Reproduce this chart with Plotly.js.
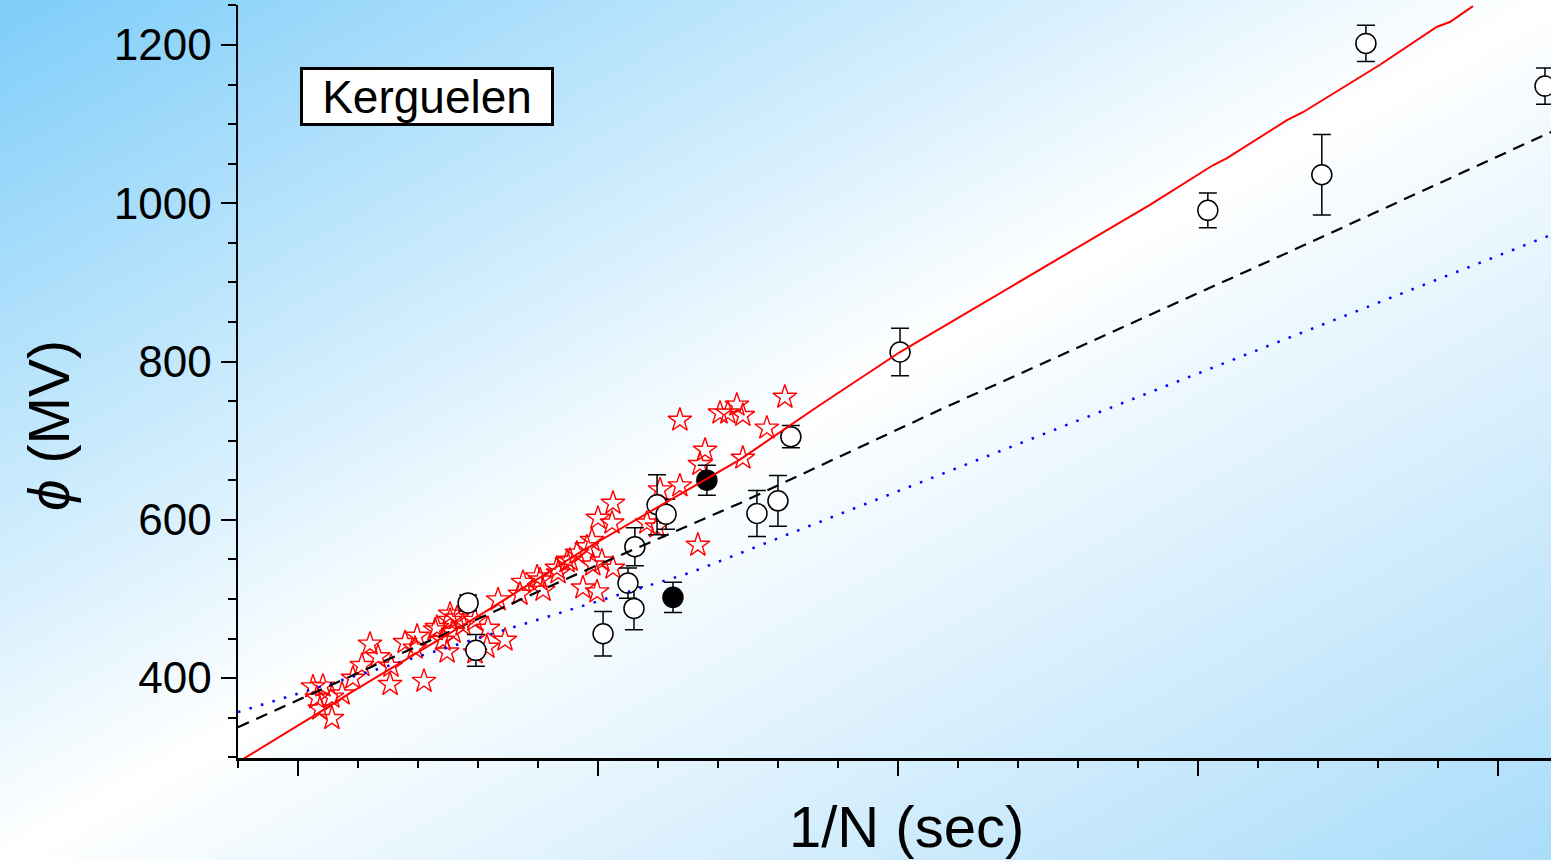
<!DOCTYPE html>
<html>
<head>
<meta charset="utf-8">
<script src="https://cdn.plot.ly/plotly-3.0.1.min.js"></script>
<style>
  html, body { margin: 0; padding: 0; }
  body {
    width: 1551px; height: 860px; overflow: hidden;
    background: linear-gradient(to bottom right, #7ecdf9 0%, #ffffff 50%, #a9dcfa 100%);
  }
  #chart { width: 1551px; height: 860px; }
</style>
</head>
<body>
<div id="chart"></div>
<script>
// Kerguelen: cutoff-related potential phi (MV) against 1/N (sec)

// Station measurements (red open stars)
const starX = [1.050, 1.083, 1.063, 1.113, 1.073, 1.113, 1.147, 1.183, 1.213, 1.240,
  1.267, 1.307, 1.310, 1.420, 1.357, 1.397, 1.390, 1.463, 1.497, 1.483,
  1.457, 1.507, 1.530, 1.517, 1.550, 1.590, 1.630, 1.633, 1.690, 1.667,
  1.740, 1.750, 1.797, 1.817, 1.863, 1.897, 1.930, 1.963, 1.980, 1.983,
  1.950, 1.997, 2.013, 2.050, 2.000, 2.047, 2.050, 2.163, 2.197, 2.207,
  2.273, 2.333, 2.340, 2.357, 2.273, 2.407, 2.433, 2.463, 2.483, 2.483,
  2.563, 2.623, 1.907, 1.867, 1.807, 1.590, 1.507];
const starY = [389, 390, 375, 376, 361, 349, 380, 400, 416, 443,
  427, 392, 415, 396, 445, 453, 438, 464, 433, 448,
  461, 473, 476, 458, 467, 473, 439, 463, 448, 499,
  506, 521, 528, 511, 539, 547, 558, 566, 574, 543,
  514, 509, 548, 539, 602, 596, 621, 596, 591, 638,
  643, 568, 670, 688, 726, 735, 735, 745, 732, 678,
  716, 755, 549, 533, 524, 432, 481];

// Open circles with error bars
const circX = [1.567, 1.593, 2.017, 2.100, 2.120, 2.123, 2.197, 2.227, 2.530, 2.600,
  2.643, 3.007, 4.033, 4.413, 4.560, 5.157];
const circY = [495, 435, 456, 520, 488, 566, 619, 607, 608, 624,
  705, 812, 991, 1036, 1202, 1148];
const circErr = [10, 20, 28, 19, 27, 24, 38, 19, 29, 32,
  14, 30, 22, 51, 23, 23];

// Filled circles with error bars
const fillX = [2.363, 2.250];
const fillY = [650, 502];
const fillErr = [19, 19];

// Model curves
const redX = [0.797, 0.950, 1.073, 1.173, 1.283, 1.397, 1.507, 1.617, 1.940, 2.473,
  2.740, 3.007, 3.840, 4.050, 4.097, 4.297, 4.350, 4.550, 4.607, 4.797, 4.840, 4.917];
const redY = [293, 328, 357, 381, 406, 432, 457, 482, 559, 676,
  745, 812, 998, 1048, 1057, 1105, 1115, 1162, 1175, 1223, 1229, 1249];

const dashX = [0.800, 1.617, 1.940, 2.473, 3.140, 4.267, 5.177];
const dashY = [338, 477, 533, 621, 739, 932, 1090];

const dotX = [0.800, 2.307, 5.177];
const dotY = [357, 533, 960];

const yTicks = [400, 600, 800, 1000, 1200];

const FONT = 'Liberation Sans, Arial, Helvetica, sans-serif';

const traces = [
  {
    x: starX, y: starY, type: 'scatter', mode: 'markers',
    marker: { symbol: 'star-open', size: 18, color: '#ff0000', line: { color: '#ff0000', width: 1.4 } },
    hoverinfo: 'skip'
  },
  {
    x: circX, y: circY, type: 'scatter', mode: 'markers',
    marker: { symbol: 'circle', size: 20, color: '#ffffff', line: { color: '#000000', width: 1.5 } },
    error_y: { type: 'data', array: circErr, visible: true, color: '#000000', thickness: 1.5, width: 9 },
    hoverinfo: 'skip'
  },
  {
    x: fillX, y: fillY, type: 'scatter', mode: 'markers',
    marker: { symbol: 'circle', size: 20, color: '#000000', line: { color: '#000000', width: 1.5 } },
    error_y: { type: 'data', array: fillErr, visible: true, color: '#000000', thickness: 1.5, width: 9 },
    hoverinfo: 'skip'
  },
  {
    x: dotX, y: dotY, type: 'scatter', mode: 'lines',
    line: { color: '#0000ff', width: 2.5, dash: '2.5px,9.5px' },
    hoverinfo: 'skip'
  },
  {
    x: dashX, y: dashY, type: 'scatter', mode: 'lines',
    line: { color: '#000000', width: 2.2, dash: '12px,8px' },
    hoverinfo: 'skip'
  },
  {
    x: redX, y: redY, type: 'scatter', mode: 'lines',
    line: { color: '#ff0000', width: 2 },
    hoverinfo: 'skip'
  }
];

const xRange = [0.8, 5.177];
const yRange = [299, 1250.5];

const layout = {
  width: 1551, height: 860,
  margin: { l: 238, r: 0, t: 5, b: 102, pad: 0 },
  paper_bgcolor: 'rgba(0,0,0,0)',
  plot_bgcolor: 'rgba(0,0,0,0)',
  showlegend: false,
  hovermode: false,
  font: { family: FONT, color: '#000000' },
  xaxis: {
    range: xRange, autorange: false, showgrid: false, zeroline: false,
    showline: true, linecolor: '#000000', linewidth: 2.5,
    ticks: 'outside', ticklen: 15, tickwidth: 2, tickcolor: '#000000',
    tick0: 0, dtick: 1, showticklabels: false,
    minor: { tick0: 0, dtick: 0.2, ticks: 'outside', ticklen: 7, tickwidth: 2, tickcolor: '#000000', showgrid: false }
  },
  xaxis2: {
    overlaying: 'x', anchor: 'y', side: 'bottom',
    range: xRange, autorange: false, showgrid: false, zeroline: false, showline: false,
    ticks: 'inside', ticklen: 15, tickwidth: 2, tickcolor: '#000000',
    tick0: 0, dtick: 1, showticklabels: false,
    minor: { tick0: 0, dtick: 0.2, ticks: 'inside', ticklen: 7, tickwidth: 2, tickcolor: '#000000', showgrid: false }
  },
  xaxis3: {
    overlaying: 'x', anchor: 'y', side: 'top',
    range: xRange, autorange: false, showgrid: false, zeroline: false,
    showline: true, linecolor: '#000000', linewidth: 2.5,
    ticks: 'inside', ticklen: 15, tickwidth: 2, tickcolor: '#000000',
    tick0: 0, dtick: 1, showticklabels: false,
    minor: { tick0: 0, dtick: 0.2, ticks: 'inside', ticklen: 8, tickwidth: 2, tickcolor: '#000000', showgrid: false }
  },
  yaxis: {
    range: yRange, autorange: false, showgrid: false, zeroline: false,
    showline: true, linecolor: '#000000', linewidth: 2.5,
    ticks: 'outside', ticklen: 15, tickwidth: 2, tickcolor: '#000000',
    tickmode: 'array', tickvals: yTicks, ticktext: yTicks.map(String),
    tickfont: { family: FONT, size: 44, color: '#000000' },
    minor: { tick0: 0, dtick: 50, ticks: 'outside', ticklen: 8, tickwidth: 2, tickcolor: '#000000', showgrid: false }
  },
  yaxis2: {
    overlaying: 'y', anchor: 'x', side: 'right',
    range: yRange, autorange: false, showgrid: false, zeroline: false, showline: false,
    ticks: 'inside', ticklen: 10, tickwidth: 2, tickcolor: '#000000',
    tickmode: 'array', tickvals: yTicks, showticklabels: false
  },
  annotations: [
    {
      xref: 'paper', yref: 'paper', x: 0.144, y: 0.879,
      xanchor: 'center', yanchor: 'middle', showarrow: false,
      text: 'Kerguelen', font: { family: FONT, size: 46, color: '#000000' },
      bgcolor: '#ffffff', bordercolor: '#000000', borderwidth: 3, borderpad: 0,
      width: 248, height: 53
    },
    {
      xref: 'paper', yref: 'paper', x: -0.1439, y: 0.4409,
      xanchor: 'center', yanchor: 'middle', showarrow: false, textangle: -90,
      text: '<i>ϕ</i> (MV)', font: { family: FONT, size: 57, color: '#000000' }
    },
    {
      xref: 'paper', yref: 'paper', x: 0.5095, y: -0.0916,
      xanchor: 'center', yanchor: 'middle', showarrow: false,
      text: '1/N (sec)', font: { family: FONT, size: 58, color: '#000000' }
    }
  ]
};

Plotly.newPlot('chart', traces, layout, { displayModeBar: false, staticPlot: true });
</script>
</body>
</html>
